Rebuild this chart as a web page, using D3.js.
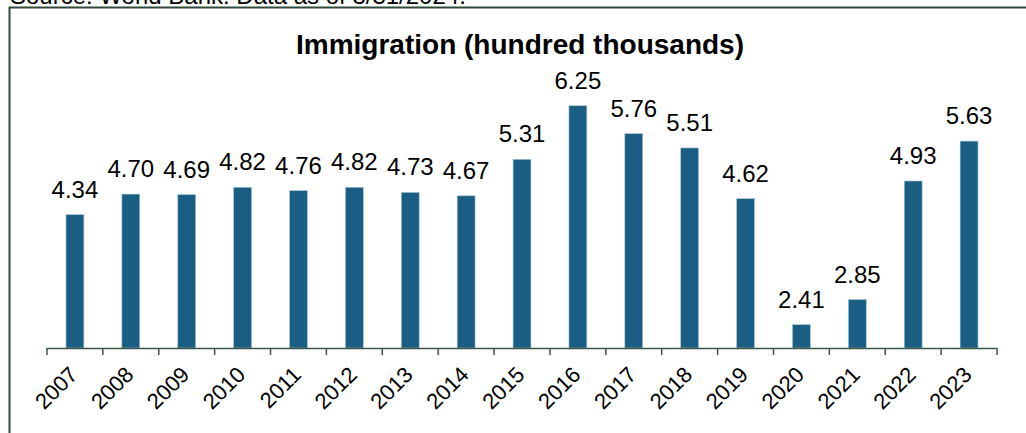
<!DOCTYPE html>
<html>
<head>
<meta charset="utf-8">
<script src="https://cdn.jsdelivr.net/npm/d3@7"></script>
<style>
  html, body { margin: 0; padding: 0; background: #fff; }
  svg { display: block; font-family: "Liberation Sans", Arial, sans-serif; }
</style>
</head>
<body>
<svg id="chart" width="1026" height="433"></svg>
<script>
// Immigration (hundred thousands), 2007–2023
const years = ["2007", "2008", "2009", "2010", "2011", "2012", "2013", "2014", "2015",
               "2016", "2017", "2018", "2019", "2020", "2021", "2022", "2023"];
const immigration = [4.34, 4.70, 4.69, 4.82, 4.76, 4.82, 4.73, 4.67, 5.31,
                     6.25, 5.76, 5.51, 4.62, 2.41, 2.85, 4.93, 5.63];
const yDomain = [2, 8];

const svg = d3.select("#chart");
const W = 1026, H = 433;
const plot = { left: 47, right: 997, top: 6, bottom: 348 };

// source note, cut off by the top edge as in the original screenshot
svg.append("text")
  .attr("x", 10).attr("y", 4)
  .style("font-size", "24px")
  .attr("fill", "#000")
  .text("Source: World Bank. Data as of 3/31/2024.");

svg.append("path")
  .attr("d", `M9.5,${H} V7.5 H${W}`)
  .attr("fill", "none")
  .attr("stroke", "#2e4a3a")
  .attr("stroke-width", 2);

const data = years.map((y, i) => ({ year: y, value: immigration[i] }));

const x = d3.scaleBand().domain(years).range([plot.left, plot.right]).paddingInner(0.68).paddingOuter(0.34);
const xTicks = d3.scaleBand().domain(years).range([plot.left, plot.right]);
const y = d3.scaleLinear().domain(yDomain).range([plot.bottom, plot.top]);

svg.append("text")
  .attr("x", 520).attr("y", 54)
  .attr("text-anchor", "middle")
  .style("font-size", "28px").style("font-weight", "bold")
  .text("Immigration (hundred thousands)");

svg.append("g").selectAll("rect")
  .data(data).join("rect")
  .attr("x", d => x(d.year))
  .attr("width", x.bandwidth())
  .attr("y", d => y(d.value))
  .attr("height", d => plot.bottom - y(d.value))
  .attr("fill", "#1a5f83")
  .attr("stroke", "#a9c7d6")
  .attr("stroke-width", 0.6);

svg.append("g").selectAll("text")
  .data(data).join("text")
  .attr("x", d => x(d.year) + x.bandwidth() / 2)
  .attr("y", d => y(d.value) - 17)
  .attr("text-anchor", "middle")
  .style("font-size", "24px")
  .text(d => d.value.toFixed(2));

// axis line with tick marks at category boundaries
const axis = svg.append("g").attr("stroke", "#3d5546").attr("stroke-width", 1.5);
axis.append("line")
  .attr("x1", plot.left).attr("x2", plot.right)
  .attr("y1", plot.bottom + 0.5).attr("y2", plot.bottom + 0.5);
const bounds = years.map(d => xTicks(d)).concat([plot.right]);
axis.selectAll("line.tick").data(bounds).join("line")
  .attr("class", "tick")
  .attr("x1", d => d).attr("x2", d => d)
  .attr("y1", plot.bottom).attr("y2", plot.bottom + 7);

svg.append("g").selectAll("text")
  .data(years).join("text")
  .attr("transform", d => `translate(${xTicks(d) + xTicks.bandwidth() / 2 + 4},${plot.bottom + 28}) rotate(-45)`)
  .attr("text-anchor", "end")
  .style("font-size", "22px")
  .text(d => d);
</script>
</body>
</html>
